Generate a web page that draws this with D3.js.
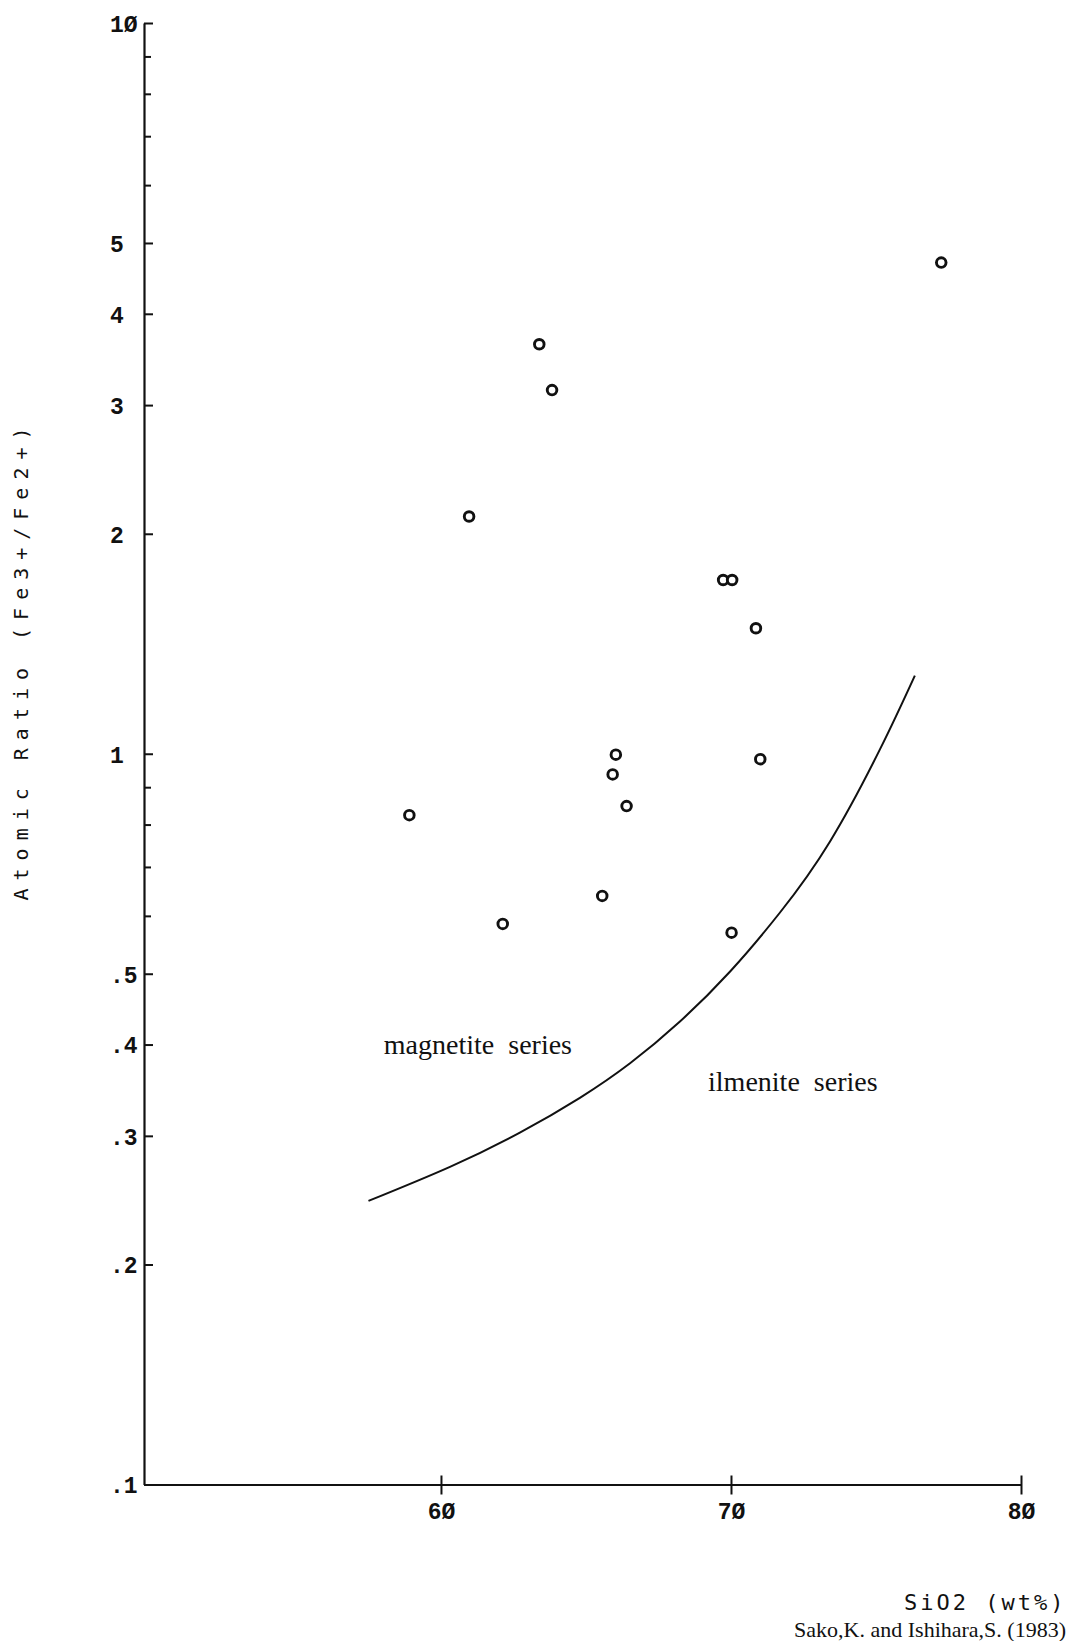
<!DOCTYPE html>
<html>
<head>
<meta charset="utf-8">
<script src="https://cdn.jsdelivr.net/npm/d3@7"></script>
<style>
  html, body { margin: 0; padding: 0; background: #fff; }
  svg { display: block; }
</style>
</head>
<body>
<svg id="chart" width="1071" height="1641"></svg>
<script>
// ---- data ----
const sio2 = [58.91, 60.97, 62.13, 63.39, 63.83, 65.56, 65.92, 66.03, 66.40, 69.73, 70.04, 70.86, 70.02, 71.01, 77.25];
const feRatio = [0.824, 2.112, 0.585, 3.634, 3.145, 0.639, 0.937, 0.997, 0.848, 1.729, 1.729, 1.485, 0.569, 0.983, 4.701];

const boundarySio2 = [57.50, 60.31, 62.72, 64.79, 66.52, 68.24, 69.97, 71.69, 73.41, 75.14, 76.34];
const boundaryRatio = [0.2444, 0.2721, 0.3031, 0.3382, 0.3771, 0.4301, 0.5036, 0.6064, 0.7580, 1.0146, 1.2793];

const xTickValues = [60, 70, 80];
const xTickLabels = ["6Ø", "7Ø", "8Ø"];
const yLabelValues = [0.1, 0.2, 0.3, 0.4, 0.5, 1, 2, 3, 4, 5, 10];
const yLabelTexts = [".1", ".2", ".3", ".4", ".5", "1", "2", "3", "4", "5", "1Ø"];

const regionLabels = ["magnetite  series", "ilmenite  series"];
const regionLabelSio2 = [58.03, 69.21];
const regionLabelRatio = [0.388, 0.3455];

const yTitle = "Atomic Ratio (Fe3+/Fe2+)";
const xTitle = "SiO2 (wt%)";
const credit = "Sako,K. and Ishihara,S. (1983)";

// ---- scales ----
const svg = d3.select("#chart");
const x = d3.scaleLinear().domain([49.76, 80]).range([144, 1021]);
const y = d3.scaleLog().domain([0.1, 10]).range([1484.5, 23]);

const ink = "#111";

// ---- y axis ----
const yTicks = y.ticks();
const yAxis = d3.axisLeft(y)
  .tickValues(yTicks)
  .tickSizeInner(-9)
  .tickSizeOuter(0)
  .tickPadding(0)
  .tickFormat(d => {
    const i = yLabelValues.findIndex(v => Math.abs(v - d) < 1e-9);
    return i >= 0 ? yLabelTexts[i] : "";
  });
const gy = svg.append("g").attr("transform", `translate(${x(49.76)},0)`).call(yAxis);
gy.select(".domain").attr("stroke", ink).attr("stroke-width", 2.2);
gy.selectAll(".tick line")
  .attr("stroke", ink).attr("stroke-width", 2)
  .attr("x2", d => yLabelValues.some(v => Math.abs(v - d) < 1e-9) ? 9 : 7);
gy.selectAll(".tick text")
  .attr("x", -34).attr("text-anchor", "start").attr("dy", "0.36em")
  .attr("fill", ink)
  .style("font-family", "'Liberation Mono', 'DejaVu Sans Mono', monospace")
  .style("font-weight", "bold").style("font-size", "23px");

// ---- x axis ----
const xAxis = d3.axisBottom(x)
  .tickValues(xTickValues)
  .tickSizeOuter(0)
  .tickSizeInner(10)
  .tickPadding(8)
  .tickFormat((d, i) => xTickLabels[i]);
const gx = svg.append("g").attr("transform", `translate(0,${y(0.1)})`).call(xAxis);
gx.select(".domain").attr("stroke", ink).attr("stroke-width", 2);
gx.selectAll(".tick line").attr("stroke", ink).attr("stroke-width", 2).attr("y1", -9).attr("y2", 10);
gx.selectAll(".tick text")
  .attr("fill", ink)
  .style("font-family", "'Liberation Mono', 'DejaVu Sans Mono', monospace")
  .style("font-weight", "bold").style("font-size", "23px");

// ---- boundary curve ----
const line = d3.line()
  .x(d => x(d[0])).y(d => y(d[1]))
  .curve(d3.curveNatural);
svg.append("path")
  .datum(boundarySio2.map((s, i) => [s, boundaryRatio[i]]))
  .attr("d", line)
  .attr("fill", "none").attr("stroke", ink).attr("stroke-width", 2);

// ---- points ----
svg.append("g").selectAll("circle")
  .data(sio2.map((s, i) => [s, feRatio[i]]))
  .join("circle")
  .attr("cx", d => x(d[0])).attr("cy", d => y(d[1]))
  .attr("r", 4.8)
  .attr("fill", "#fff").attr("stroke", ink).attr("stroke-width", 2.9);

// ---- region labels ----
svg.append("g").selectAll("text")
  .data(regionLabels)
  .join("text")
  .attr("x", (d, i) => x(regionLabelSio2[i]))
  .attr("y", (d, i) => y(regionLabelRatio[i]))
  .attr("xml:space", "preserve")
  .style("white-space", "pre")
  .attr("fill", ink)
  .style("font-family", "'Liberation Serif', 'Times New Roman', serif")
  .style("font-size", "28px")
  .text(d => d);

// ---- titles ----
svg.append("text")
  .attr("transform", "translate(28,660) rotate(-90)")
  .attr("text-anchor", "middle")
  .attr("fill", ink)
  .style("font-family", "'DejaVu Sans Mono', monospace")
  .style("font-size", "20px")
  .style("letter-spacing", "8px")
  .text(yTitle);

svg.append("text")
  .attr("x", 904).attr("y", 1610)
  .attr("fill", ink)
  .style("font-family", "'DejaVu Sans Mono', monospace")
  .style("font-size", "22px")
  .style("letter-spacing", "3px")
  .text(xTitle);

svg.append("text")
  .attr("x", 1066).attr("y", 1637)
  .attr("text-anchor", "end")
  .attr("fill", ink)
  .style("font-family", "'Liberation Serif', 'Times New Roman', serif")
  .style("font-size", "22px")
  .text(credit);
</script>
</body>
</html>
